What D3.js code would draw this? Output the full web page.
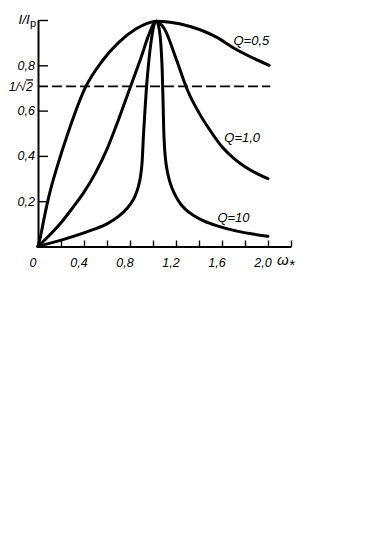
<!DOCTYPE html>
<html lang="ru">
<head>
  <meta charset="utf-8">
  <title>Resonance curves</title>
  <script src="https://cdn.jsdelivr.net/npm/d3@7"></script>
  <style>
    body { margin: 0; background: #fff; }
    text { font-family: "Liberation Sans", Arial, sans-serif; font-style: italic; fill: #000; }
  </style>
</head>
<body>
  <script>
    // curves (omega, I/Ip)
    const q05Omega = [0, 0.02, 0.05, 0.094, 0.176, 0.26, 0.41, 0.56, 0.70, 0.85, 0.95, 1.03, 1.15, 1.33, 1.56, 1.69, 1.79, 2.01];
    const q05Value = [0, 0.04, 0.117, 0.22, 0.368, 0.50, 0.70, 0.82, 0.90, 0.96, 0.985, 0.995, 0.99, 0.97, 0.922, 0.88, 0.852, 0.80];

    const q1Omega = [0, 0.1, 0.2, 0.3, 0.4, 0.5, 0.6, 0.7, 0.8, 0.9, 0.96, 1.03, 1.1, 1.2, 1.3, 1.4, 1.5, 1.6, 1.7, 1.8, 1.9, 2.0];
    const q1Value = [0, 0.05, 0.105, 0.17, 0.24, 0.325, 0.43, 0.56, 0.70, 0.84, 0.93, 0.995, 0.96, 0.83, 0.69, 0.59, 0.51, 0.44, 0.39, 0.352, 0.323, 0.30];

    const q10Omega = [0, 0.21, 0.471, 0.60, 0.70, 0.75, 0.80, 0.84, 0.87, 0.89, 0.905, 0.918, 0.93, 0.943, 0.96, 0.985, 1.03,
      1.05, 1.07, 1.08, 1.087, 1.093, 1.10, 1.11, 1.125, 1.15, 1.19, 1.23, 1.28, 1.35, 1.44, 1.58, 1.73, 1.87, 2.0];
    const q10Value = [0, 0.029, 0.073, 0.10, 0.133, 0.155, 0.185, 0.218, 0.26, 0.305, 0.37, 0.50, 0.60, 0.70, 0.80, 0.91, 0.995,
      0.97, 0.88, 0.78, 0.65, 0.52, 0.44, 0.38, 0.33, 0.28, 0.23, 0.195, 0.165, 0.138, 0.113, 0.088, 0.068, 0.055, 0.045];

    const curveLabels = ["Q=0,5", "Q=1,0", "Q=10"];
    const labelOmega = [1.70, 1.62, 1.56];
    const labelValue = [0.89, 0.462, 0.108];

    const xTicks = [0.2, 0.4, 0.6, 0.8, 1.0, 1.2, 1.4, 1.6, 1.8, 2.0, 2.2];
    const xLabels = [0, 0.4, 0.8, 1.2, 1.6, 2.0];
    const yTicks = [0.2, 0.4, 0.6, 0.8, 1.0];
    const halfPower = Math.SQRT1_2;
    const dashEnd = 2.02;

    const width = 378, height = 542;
    const svg = d3.select("body").append("svg")
      .attr("width", width)
      .attr("height", height);

    // scales
    const x = d3.scaleLinear().domain([0, 2.2]).range([38, 291]);
    const y = d3.scaleLinear().domain([0, 1]).range([246.5, 20]);
    const fmt = d => d3.format(".1f")(d).replace(".", ",");

    // x axis, ticks pointing up
    const xAxisG = svg.append("g")
      .attr("transform", `translate(0, ${y(0)})`)
      .call(d3.axisBottom(x).tickValues(xTicks).tickSize(-6).tickSizeOuter(0)
        .tickFormat(d => ""));
    xAxisG.select(".domain").attr("stroke-width", 2);
    xAxisG.selectAll(".tick line").attr("stroke-width", 1.4);

    svg.append("g").selectAll("text").data(xLabels).join("text")
      .attr("x", d => x(d) - 5)
      .attr("y", y(0) + 20)
      .attr("text-anchor", "middle")
      .attr("font-size", 12.5)
      .text(d => d === 0 ? "0" : fmt(d));

    // y axis, ticks pointing right
    const yAxisG = svg.append("g")
      .attr("transform", `translate(${x(0)}, 0)`)
      .call(d3.axisLeft(y).tickValues(yTicks).tickSize(-10).tickSizeOuter(0)
        .tickPadding(3).tickFormat(d => d === 1 ? "" : fmt(d)));
    yAxisG.select(".domain").attr("stroke-width", 2);
    yAxisG.selectAll(".tick line").attr("stroke-width", 1.4);
    yAxisG.selectAll(".tick text")
      .attr("font-size", 12.5)
      .attr("font-family", null)
      .attr("fill", null);

    // axis titles
    const yTitle = svg.append("text")
      .attr("x", 36)
      .attr("y", y(1) + 4)
      .attr("text-anchor", "end")
      .attr("font-size", 13.5);
    yTitle.append("tspan").text("I/I");
    yTitle.append("tspan").text("р").attr("font-style", "normal")
      .attr("font-size", 11).attr("dy", 3);

    const xTitle = svg.append("text")
      .attr("x", x(2.2) - 14)
      .attr("y", y(0) + 18)
      .attr("font-size", 15);
    xTitle.append("tspan").text("ω");
    xTitle.append("tspan").text("*").attr("font-size", 15).attr("dy", 5);

    // half-power level
    svg.append("line")
      .attr("x1", x(0)).attr("x2", x(dashEnd))
      .attr("y1", y(halfPower)).attr("y2", y(halfPower))
      .attr("stroke", "#000")
      .attr("stroke-width", 1.6)
      .attr("stroke-dasharray", "10,4");

    const hpLabel = svg.append("text")
      .attr("x", 33)
      .attr("y", y(halfPower) + 5)
      .attr("text-anchor", "end")
      .attr("font-size", 12.5);
    hpLabel.append("tspan").text("1/√");
    hpLabel.append("tspan").text("2").style("text-decoration", "overline");

    // the three resonance curves
    const series = [
      q05Omega.map((w, i) => [w, q05Value[i]]),
      q1Omega.map((w, i) => [w, q1Value[i]]),
      q10Omega.map((w, i) => [w, q10Value[i]])
    ];
    const line = d3.line()
      .x(d => x(d[0]))
      .y(d => y(d[1]))
      .curve(d3.curveMonotoneX);

    svg.append("g").selectAll("path").data(series).join("path")
      .attr("d", line)
      .attr("fill", "none")
      .attr("stroke", "#000")
      .attr("stroke-width", 3)
      .attr("stroke-linejoin", "round")
      .attr("stroke-linecap", "round");

    svg.append("g").selectAll("text").data(curveLabels).join("text")
      .attr("x", (d, i) => x(labelOmega[i]))
      .attr("y", (d, i) => y(labelValue[i]))
      .attr("font-size", 13)
      .text(d => d);
  </script>
</body>
</html>
